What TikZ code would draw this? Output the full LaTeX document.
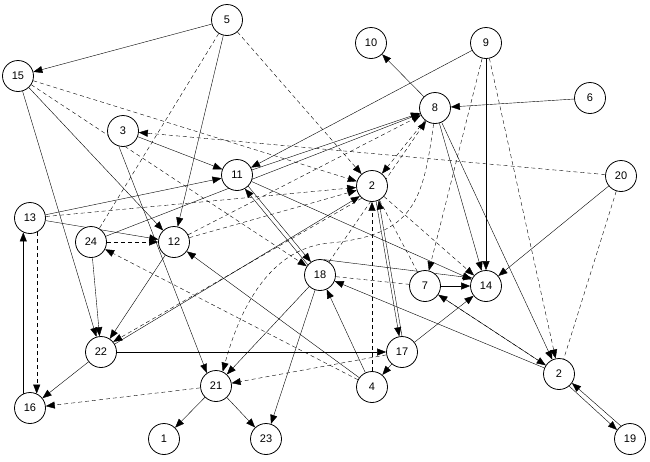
\documentclass[tikz,border=0pt]{standalone}
\usepackage{fontspec}
\setmainfont{Liberation Sans}
\usetikzlibrary{arrows.meta, backgrounds}

\begin{document}
\begin{tikzpicture}[
  x=1pt, y=1pt, line width=0.8pt,
  vertex/.style = {draw, circle, fill=white, minimum size=31pt, inner sep=0pt, font=\fontsize{11}{13}\selectfont},
  arrow/.style = {-{Triangle[length=9pt, width=7pt]}},
  dline/.style = {dash pattern=on 4pt off 3pt},
  darrow/.style = {arrow, dline}
]

  \useasboundingbox (0,0) rectangle (650,-461);

  % Top row
  \node[vertex] (n5) at (227,-20) {5};
  \node[vertex] (n10) at (371,-43) {10};
  \node[vertex] (n9) at (486,-43) {9};
  \node[vertex] (n15) at (18,-76) {15};
  \node[vertex] (n6) at (590,-98) {6};
  \node[vertex] (n8) at (435,-108) {8};
  \node[vertex] (n3) at (123,-131) {3};

  % Middle
  \node[vertex] (n11) at (237,-175) {11};
  \node[vertex] (n2) at (372,-186) {2};
  \node[vertex] (n20) at (621,-176) {20};
  \node[vertex] (n13) at (30,-218) {13};
  \node[vertex] (n24) at (91,-242) {24};
  \node[vertex] (n12) at (174,-242) {12};
  \node[vertex] (n18) at (320,-275) {18};
  \node[vertex] (n7) at (425,-286) {7};
  \node[vertex] (n14) at (486,-286) {14};

  % Bottom
  \node[vertex] (n22) at (101,-352) {22};
  \node[vertex] (n17) at (402,-352) {17};
  \node[vertex] (n2b) at (559,-374) {2};
  \node[vertex] (n21) at (216,-386) {21};
  \node[vertex] (n4) at (372,-387) {4};
  \node[vertex] (n16) at (30,-408) {16};
  \node[vertex] (n1) at (164,-439) {1};
  \node[vertex] (n23) at (266,-439) {23};
  \node[vertex] (n19) at (630,-439) {19};

  \begin{scope}[on background layer]
  % Solid edges
  \draw[arrow] (n5) -- (n15);
  \draw[arrow] (n5) -- (n12);
  \draw[arrow] (n15) -- (n22);
  \draw[arrow] (n15) -- (n12);
  \draw[arrow] (n3) -- (n11);
  \draw[arrow] (n3.-105) -- (n21.125);
  \draw[arrow] (n13) -- (n11);
  \draw[arrow] (n13) -- (n12);
  \draw[arrow] (n16.115) -- (n13.-115);
  \draw[arrow] (n24) -- (n22);
  \draw[arrow] (n24) -- (n8);
  \draw[arrow] (n12) -- (n22);
  \draw[arrow] (n22) -- (n16);
  \draw[arrow] (n22) -- (n17);
  \draw[arrow] (n22.30) -- (n2.-140);
  \draw[arrow] (n11) -- (n8);
  \draw[arrow] (n9) -- (n11);
  \draw[arrow] (n11) -- (n14);
  \draw[arrow] (n11.-45) -- (n18.125);
  \draw[arrow] (n18.140) -- (n11.-60);
  \draw[arrow] (n18.75) -- (n14.150);
  \draw[arrow] (n18) -- (n21);
  \draw[arrow] (n18) -- (n23);
  \draw[arrow] (n21) -- (n1);
  \draw[arrow] (n21) -- (n23);
  \draw[arrow] (n4) -- (n12);
  \draw[arrow] (n4) -- (n18);
  \draw[arrow] (n17) -- (n4);
  \draw[arrow] (n2.-75) -- (n17.100);
  \draw[arrow] (n17.90) -- (n2.-65);
  \draw[arrow] (n17) -- (n14);
  \draw[arrow] (n7) -- (n14);
  \draw[arrow] (n7) -- (n2b);
  \draw[arrow] (n2b) -- (n18);
  \draw[arrow] (n2b.-50) -- (n19.145);
  \draw[arrow] (n19.125) -- (n2b.-35);
  \draw[arrow] (n20) -- (n14);
  \draw[arrow] (n6) -- (n8);
  \draw[arrow] (n8) -- (n10);
  \draw[arrow] (n8) -- (n14);
  \draw[arrow] (n8) -- (n2b);
  \draw[arrow] (n9) -- (n14);

  % Dashed edges
  \draw[darrow] (n5) -- (n2);
  \draw[darrow] (n15) -- (n18);
  \draw[darrow] (n15) -- (n2);
  \draw[darrow] (n20) -- (n3);
  \draw[darrow] (n13) -- (n2);
  \draw[darrow] (n12) -- (n2);
  \draw[darrow] (n12) -- (n8);
  \draw[darrow] (n2.-130) -- (n22.40);
  \draw[darrow] (n24) -- (n12);
  \draw[darrow] (n4) -- (n24);
  \draw[darrow] (n21) -- (n16);
  \draw[darrow] (n17) -- (n21);
  \draw[darrow] (n13.-65) -- (n16.65);
  \draw[darrow] (n18) -- (n8);
  \draw[darrow] (n8.-95) .. controls (423,-200) and (415,-235) .. (330,-243)
    .. controls (280,-247) and (245,-290) .. (n21.65);
  \draw[darrow] (n8) -- (n2);
  \draw[darrow] (n9) -- (n7);
  \draw[darrow] (n9) -- (n2b);
  \draw[darrow] (n2) -- (n14);
  \draw[darrow] (n4) -- (n2);
  \draw[darrow] (n2b) -- (n7);
  \draw[dline] (n5) -- (n24);
  \draw[dline] (n18) -- (n7);
  \draw[dline] (n2) -- (n7);
  \draw[dline] (n20) -- (n2b);
  \end{scope}

\end{tikzpicture}
\end{document}
